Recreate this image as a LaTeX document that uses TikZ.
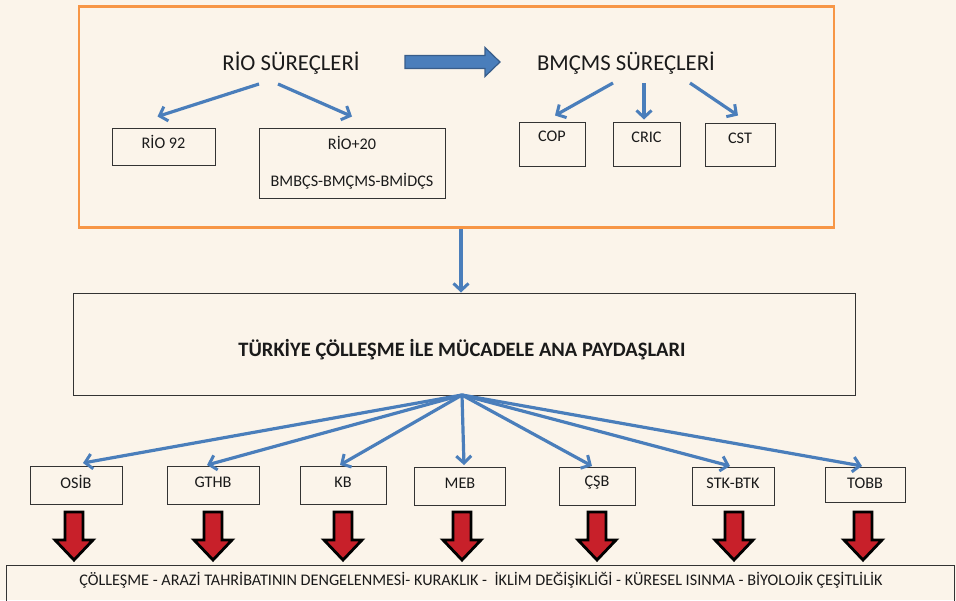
\documentclass[tikz,border=0pt]{standalone}
\usepackage{fontspec}
\setmainfont{Carlito}
\usetikzlibrary{arrows.meta,calc}
\definecolor{bg}{HTML}{FBF4EA}
\definecolor{orng}{HTML}{F79646}
\definecolor{blu}{HTML}{4A7EBB}
\definecolor{bluedge}{HTML}{385D8A}
\definecolor{redf}{HTML}{C8202A}
\definecolor{txt}{HTML}{1A1A1A}
\begin{document}
\begin{tikzpicture}[x=1pt,y=-1pt,
  box/.style={draw=black!80, line width=1pt, inner sep=0pt},
  lbl/.style={text=txt, inner sep=0pt, font=\fontsize{16.2}{18}\selectfont},
  barrow/.style={draw=blu, line width=3.2pt, -{Straight Barb[length=7pt,width=15pt,line width=3pt]}},
  redarrow/.pic={\draw[fill=redf, draw=black, line width=2.8pt, line join=miter]
     (-9,0) -- (9,0) -- (9,28) -- (19,28) -- (0,48) -- (-19,28) -- (-9,28) -- cycle;}
]
\useasboundingbox (0,0) rectangle (956,600);
\clip (0,0) rectangle (956,600);
\fill[bg] (0,0) rectangle (956,600);

% orange frame
\node[draw=orng, line width=2.8pt, minimum width=755pt, minimum height=221pt, inner sep=0pt] (frame) at (456.5,117) {};

% titles
\node[text=txt, inner sep=0pt, font=\fontsize{22.7}{25}\selectfont] (rio) at (291,63) {RİO SÜREÇLERİ};
\node[text=txt, inner sep=0pt, font=\fontsize{22.7}{25}\selectfont] (bmcms) at (626,63) {BMÇMS SÜREÇLERİ};

% block arrow
\draw[fill=blu, draw=bluedge, line width=1.2pt, line join=miter]
  (405,55.5) -- (485,55.5) -- (485,47.5) -- (500,62) -- (485,76.5) -- (485,68.5) -- (405,68.5) -- cycle;

% RIO boxes
\node[box, minimum width=103pt, minimum height=37pt] (rio92) at (163.5,146.5) {};
\node[lbl] at (163.5,142) {RİO 92};
\node[box, minimum width=186pt, minimum height=70pt] (rio20) at (352,163) {};
\node[lbl] at (352,143) {RİO+20};
\node[lbl] at (352,181) {BMBÇS-BMÇMS-BMİDÇS};

% BMCMS boxes
\node[box, minimum width=66pt, minimum height=44pt] (cop) at (552,144) {};
\node[lbl] at (552,136) {COP};
\node[box, minimum width=67pt, minimum height=44pt] (cric) at (646.5,144) {};
\node[lbl] at (646.5,137) {CRIC};
\node[box, minimum width=70pt, minimum height=43pt] (cst) at (740,144.5) {};
\node[lbl] at (740,138) {CST};

% arrows top
\coordinate (r1) at (259,84);
\coordinate (r2) at (278,84);
\draw[barrow] (r1) -- ($(rio92.north)+(-6,-11)$);
\draw[barrow] (r2) -- ($(rio20.north)+(0,-11)$);
\coordinate (b1) at (613,83);
\coordinate (b2) at (644,83);
\coordinate (b3) at (690,83);
\draw[barrow] (b1) -- ($(cop.north)+(3,-6)$);
\draw[barrow] (b2) -- ($(cric.north)+(-2.5,-2)$);
\draw[barrow] (b3) -- ($(cst.north)+(-2,-7)$);

% main box
\node[box, minimum width=782pt, minimum height=102pt] (main) at (464,344) {};
\node[text=txt, inner sep=0pt, font=\bfseries\fontsize{20.5}{23}\selectfont] at (462,350) {TÜRKİYE ÇÖLLEŞME İLE MÜCADELE ANA PAYDAŞLARI};
\draw[barrow] (frame.south -| 461,0) -- (main.north -| 461,0);

% stakeholder boxes
\node[box, minimum width=92pt, minimum height=38pt] (osib) at (76,485) {};
\node[lbl] at (76,482) {OSİB};
\node[box, minimum width=92pt, minimum height=38pt] (gthb) at (213,485) {};
\node[lbl] at (213,482) {GTHB};
\node[box, minimum width=86pt, minimum height=38pt] (kb) at (343,485) {};
\node[lbl] at (343,482) {KB};
\node[box, minimum width=91pt, minimum height=38pt] (meb) at (459.5,486) {};
\node[lbl] at (460,483) {MEB};
\node[box, minimum width=76pt, minimum height=38pt] (csb) at (597,486) {};
\node[lbl] at (597,483) {ÇŞB};
\node[box, minimum width=82pt, minimum height=38pt] (stk) at (733,486) {};
\node[lbl] at (733,483) {STK-BTK};
\node[box, minimum width=80pt, minimum height=35pt] (tobb) at (865,484.5) {};
\node[lbl] at (865,483) {TOBB};

% fan arrows
\coordinate (fan) at (462,395);
\draw[barrow] (fan) -- (83,463);
\draw[barrow] (fan) -- (207,465);
\draw[barrow] (fan) -- (340,465);
\draw[barrow] (fan) -- (464,465);
\draw[barrow] (fan) -- (592,466);
\draw[barrow] (fan) -- (730,466);
\draw[barrow] (fan) -- (862,466);

% red arrows
\foreach \x in {74,213,343,462,597,734,863} \pic at (\x,512) {redarrow};

% bottom box
\node[box, minimum width=948pt, minimum height=60pt] (bottom) at (480,595) {};
\node[lbl] at (481,580) {ÇÖLLEŞME - ARAZİ TAHRİBATININ DENGELENMESİ- KURAKLIK -\ \ İKLİM DEĞİŞİKLİĞİ - KÜRESEL ISINMA - BİYOLOJİK ÇEŞİTLİLİK};
\end{tikzpicture}
\end{document}
